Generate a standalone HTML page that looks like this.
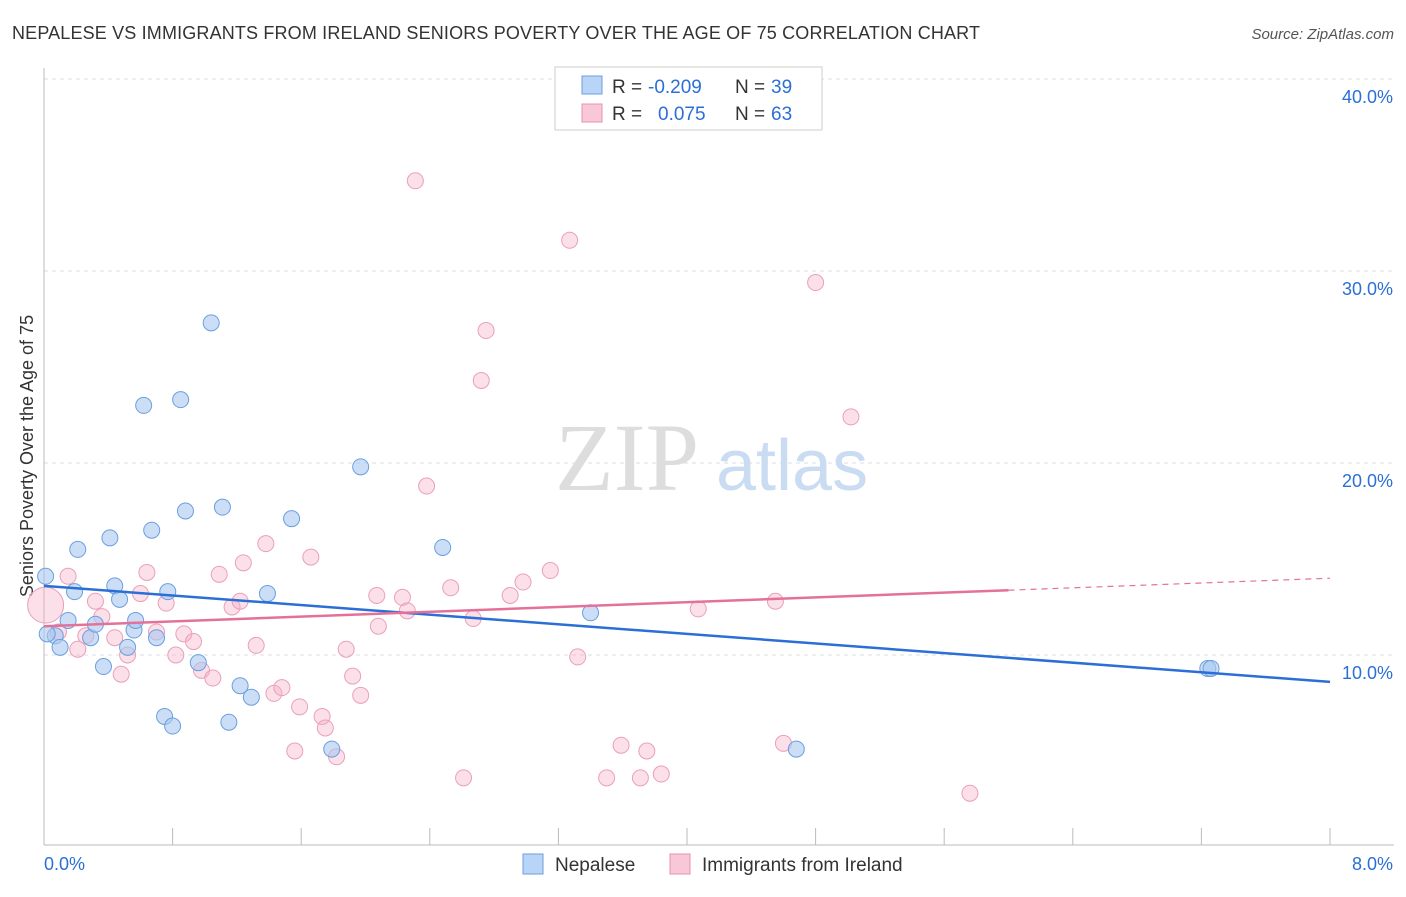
<!DOCTYPE html>
<html><head><meta charset="utf-8"><style>
body{margin:0;background:#fff;font-family:"Liberation Sans",sans-serif;}
svg text{font-family:"Liberation Sans",sans-serif;}
</style></head><body>
<svg id="chart" width="1406" height="892" xmlns="http://www.w3.org/2000/svg">
<text x="12" y="39" font-size="18" fill="#333" textLength="968">NEPALESE VS IMMIGRANTS FROM IRELAND SENIORS POVERTY OVER THE AGE OF 75 CORRELATION CHART</text>
<text x="1394" y="39" font-size="15" fill="#555" text-anchor="end" font-style="italic">Source: ZipAtlas.com</text>
<g id="grid"></g>
<g id="axes"></g>
<text x="555" y="490" font-size="96" fill="#ddd" font-family="Liberation Serif" style="font-family:'Liberation Serif',serif">ZIP</text>
<text x="716" y="490" font-size="72" fill="#c9dcf2">atlas</text>
<text transform="translate(33,456) rotate(-90)" font-size="18" fill="#333" text-anchor="middle">Seniors Poverty Over the Age of 75</text>
<g id="marks"></g>
<g>
<rect x="555" y="67" width="267" height="63" fill="#fff" stroke="#ccc"/>
<rect x="582" y="76" width="20" height="18" fill="#b8d4f6" stroke="#6a9fe0"/>
<rect x="582" y="104" width="20" height="18" fill="#f9c8d8" stroke="#e890ad"/>
<text x="612" y="93" font-size="19" fill="#333">R =</text>
<text x="648" y="93" font-size="19" fill="#2b6fd6">-0.209</text>
<text x="735" y="93" font-size="19" fill="#333">N =</text>
<text x="771" y="93" font-size="19" fill="#2b6fd6">39</text>
<text x="612" y="120" font-size="19" fill="#333">R =</text>
<text x="658" y="120" font-size="19" fill="#2b6fd6">0.075</text>
<text x="735" y="120" font-size="19" fill="#333">N =</text>
<text x="771" y="120" font-size="19" fill="#2b6fd6">63</text>
</g>
<g>
<rect x="523" y="854" width="20" height="20" fill="#b8d4f6" stroke="#6a9fe0"/>
<text x="555" y="871" font-size="19" fill="#333">Nepalese</text>
<rect x="670" y="854" width="20" height="20" fill="#f9c8d8" stroke="#e890ad"/>
<text x="702" y="871" font-size="19" fill="#333">Immigrants from Ireland</text>
</g>
</svg>
<script>
const blueX=[0.01,0.07,0.10,0.15,0.19,0.21,0.29,0.32,0.37,0.41,0.44,0.47,0.52,0.56,0.57,0.62,0.67,0.70,0.75,0.77,0.80,0.85,0.88,0.96,1.04,1.11,1.15,1.22,1.29,1.39,1.54,1.79,1.97,2.48,3.40,4.68,7.24,7.26,0.02];
const blueY=[14.1,11.0,10.4,11.8,13.3,15.5,10.9,11.6,9.4,16.1,13.6,12.9,10.4,11.3,11.8,23.0,16.5,10.9,6.8,13.3,6.3,23.3,17.5,9.6,27.3,17.7,6.5,8.4,7.8,13.2,17.1,5.1,19.8,15.6,12.2,5.1,9.3,9.3,11.1];
const pinkX=[0.01,0.09,0.15,0.21,0.26,0.32,0.36,0.44,0.48,0.52,0.60,0.64,0.70,0.76,0.82,0.87,0.93,0.98,1.05,1.09,1.17,1.22,1.24,1.32,1.38,1.43,1.48,1.56,1.59,1.66,1.73,1.75,1.82,1.88,1.92,1.97,2.07,2.08,2.23,2.26,2.31,2.38,2.53,2.61,2.67,2.72,2.75,2.90,2.98,3.15,3.27,3.32,3.50,3.59,3.71,3.75,3.84,4.07,4.55,4.60,4.80,5.02,5.76];
const pinkY=[12.6,11.2,14.1,10.3,11.0,12.8,12.0,10.9,9.0,10.0,13.2,14.3,11.2,12.7,10.0,11.1,10.7,9.2,8.8,14.2,12.5,12.8,14.8,10.5,15.8,8.0,8.3,5.0,7.3,15.1,6.8,6.2,4.7,10.3,8.9,7.9,13.1,11.5,13.0,12.3,34.7,18.8,13.5,3.6,11.9,24.3,26.9,13.1,13.8,14.4,31.6,9.9,3.6,5.3,3.6,5.0,3.8,12.4,12.8,5.4,29.4,22.4,2.8];
const yTicks=[10,20,30,40];
const yTickLabels=["10.0%","20.0%","30.0%","40.0%"];
const xTicks=[0,0.8,1.6,2.4,3.2,4.0,4.8,5.6,6.4,7.2,8.0];
const blueTrend=[13.6,8.6];
const pinkTrend=[11.5,14.0];
const NS="http://www.w3.org/2000/svg";
const sx=v=>44+v*160.75, sy=v=>847-v*19.2;
function mk(tag,attrs,parent){const e=document.createElementNS(NS,tag);for(const k in attrs)e.setAttribute(k,attrs[k]);parent.appendChild(e);return e;}
const grid=document.getElementById('grid'),axes=document.getElementById('axes'),marks=document.getElementById('marks');
yTicks.forEach((t,i)=>{
 const l=mk('line',{x1:44,x2:1394,y1:sy(t),y2:sy(t),stroke:'#ddd','stroke-dasharray':'4,4'},grid);
 
 
 const tx=mk('text',{x:1393,y:sy(t)+24,'font-size':18,fill:'#2b6fd6','text-anchor':'end'},axes);
 tx.textContent=yTickLabels[i];
 
 
});
mk('line',{x1:44,x2:44,y1:68,y2:845,stroke:'#bbb'},axes);
mk('line',{x1:44,x2:1394,y1:845,y2:845,stroke:'#bbb'},axes);
xTicks.forEach(t=>{const l=mk('line',{x1:sx(t),x2:sx(t),y1:828,y2:845,stroke:'#bbb'},axes);
 
 });
let a=mk('text',{x:44,y:870,'font-size':18,fill:'#2b6fd6'},axes);a.textContent="0.0%";


a=mk('text',{x:1393,y:870,'font-size':18,fill:'#2b6fd6','text-anchor':'end'},axes);a.textContent="8.0%";


pinkX.forEach((x,i)=>{const c=mk('circle',{cx:sx(x),cy:sy(pinkY[i]),r:i===0?18:8,fill:'rgba(244,176,200,0.4)',stroke:'#eaa0b9','stroke-width':1},marks);
 
 });
blueX.forEach((x,i)=>{const c=mk('circle',{cx:sx(x),cy:sy(blueY[i]),r:8,fill:'rgba(168,200,240,0.6)',stroke:'#6a9fe0','stroke-width':1},marks);
 
 });
const pAt=x=>pinkTrend[0]+(pinkTrend[1]-pinkTrend[0])*x/8;
let l=mk('line',{x1:sx(0),y1:sy(blueTrend[0]),x2:sx(8),y2:sy(blueTrend[1]),stroke:'#2b6fd6','stroke-width':2.5},marks);


l=mk('line',{x1:sx(0),y1:sy(pAt(0)),x2:sx(6),y2:sy(pAt(6)),stroke:'#e4719a','stroke-width':2.5},marks);


l=mk('line',{x1:sx(6),y1:sy(pAt(6)),x2:sx(8),y2:sy(pAt(8)),stroke:'#e4719a','stroke-width':1.2,'stroke-dasharray':'6,5'},marks);


</script>
</body></html>
